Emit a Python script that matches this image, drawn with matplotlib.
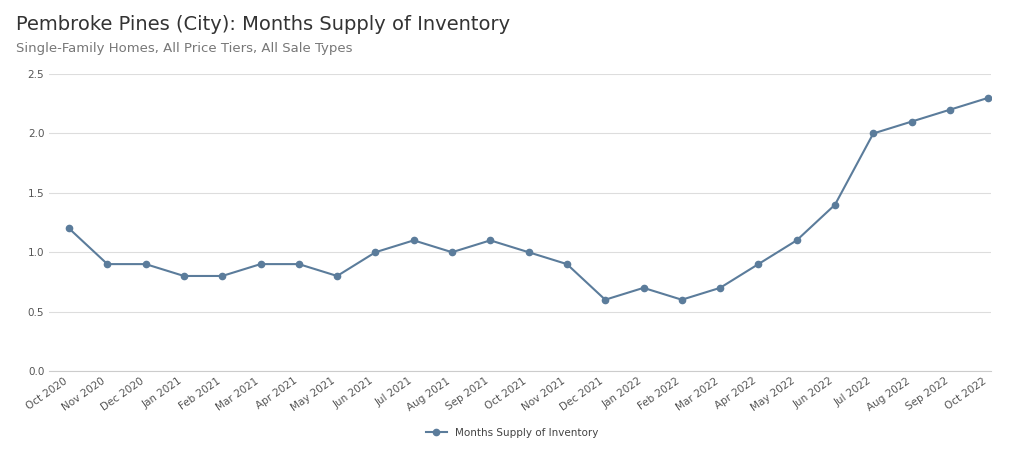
import matplotlib
matplotlib.use('Agg')
import matplotlib.pyplot as plt

months = ['Oct 2020', 'Nov 2020', 'Dec 2020', 'Jan 2021', 'Feb 2021', 'Mar 2021', 'Apr 2021',
          'May 2021', 'Jun 2021', 'Jul 2021', 'Aug 2021', 'Sep 2021', 'Oct 2021', 'Nov 2021',
          'Dec 2021', 'Jan 2022', 'Feb 2022', 'Mar 2022', 'Apr 2022', 'May 2022', 'Jun 2022',
          'Jul 2022', 'Aug 2022', 'Sep 2022', 'Oct 2022']
supply = [1.2, 0.9, 0.9, 0.8, 0.8, 0.9, 0.9, 0.8, 1.0, 1.1, 1.0, 1.1, 1.0, 0.9,
          0.6, 0.7, 0.6, 0.7, 0.9, 1.1, 1.4, 2.0, 2.1, 2.2, 2.3]
yticks = [0.0, 0.5, 1.0, 1.5, 2.0, 2.5]

color = '#5b7c9b'
fig = plt.figure(figsize=(10.24, 4.69), dpi=100)
ax = fig.add_axes([0.048, 0.209, 0.92, 0.633])

x = range(len(months))
ax.plot(x, supply, color=color, lw=1.5, marker='o', ms=4.5, label='Months Supply of Inventory')

ax.set_ylim(0, 2.5)
ax.set_xlim(-0.52, len(months) - 0.92)
ax.set_yticks(yticks)
ax.set_yticklabels([f'{v:.1f}' for v in yticks], fontsize=7.5, color='#555555')
ax.set_xticks(list(x))
ax.set_xticklabels(months, rotation=35, ha='right', fontsize=7.5, color='#555555')
ax.grid(axis='y', color='#dddddd', lw=0.8)
ax.set_axisbelow(True)
for s in ['top', 'right', 'left']:
    ax.spines[s].set_visible(False)
ax.spines['bottom'].set_color('#cccccc')
ax.tick_params(length=0)

fig.text(0.016, 0.935, 'Pembroke Pines (City): Months Supply of Inventory', fontsize=14, color='#333333')
fig.text(0.016, 0.89, 'Single-Family Homes, All Price Tiers, All Sale Types', fontsize=9.5, color='#777777')

fig.legend(loc='center', bbox_to_anchor=(0.5, 0.077), frameon=False, fontsize=7.5,
           labelcolor='#444444')

fig.savefig('out.png', dpi=100)
